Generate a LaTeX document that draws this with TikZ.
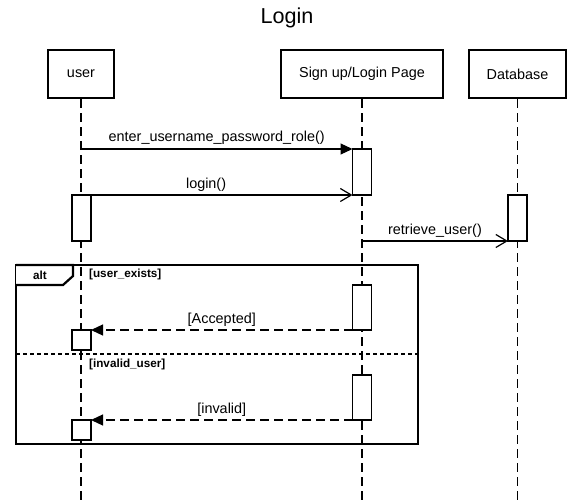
\documentclass[tikz,border=0pt]{standalone}
\usepackage{fontspec}
\setmainfont{Liberation Sans}
\usetikzlibrary{arrows.meta}
\begin{document}
\begin{tikzpicture}[x=1pt,y=-1pt,
  participant/.style={draw, line width=2.2pt, minimum width=#1, minimum height=48pt,
    inner sep=0pt, font=\fontsize{14.4}{16}\selectfont},
  lifeline/.style={line width=1.2pt, dash pattern=on 9pt off 5pt},
  activation/.style={draw, fill=white, line width=1.2pt, minimum width=19pt,
    minimum height=#1, inner sep=0pt, outer sep=0pt},
  msg/.style={line width=1.2pt},
  blockhead/.style={-{Triangle[length=12pt,width=11pt]}},
  openhead/.style={-{Straight Barb[length=11pt,width=13pt]}},
  reply/.style={line width=1.2pt, dash pattern=on 9pt off 5pt, -{Triangle[length=12pt,width=11pt]}},
  msglabel/.style={font=\fontsize{14.4}{16}\selectfont, inner sep=0pt, anchor=base},
  guard/.style={font=\bfseries\fontsize{11.7}{13}\selectfont, inner sep=0pt, anchor=base west},
  framebox/.style={draw, line width=2.2pt, inner sep=0pt, outer sep=0pt}
]
\useasboundingbox (0,0) rectangle (574,502);
\coordinate (bottom) at (0,502);

% title
\node[font=\fontsize{21.6}{24}\selectfont, inner sep=0pt] (title) at (287,18) {Login};

% participants
\node[participant=66pt]  (user)   at (81,74)    {user};
\node[participant=162pt] (signup) at (362,74)   {Sign up/Login Page};
\node[participant=97pt]  (db)     at (517.5,74) {Database};

% lifelines
\draw[lifeline] (user.south)   -- (user.south |- bottom);
\draw[lifeline] (signup.south) -- (signup.south |- bottom);
\draw[lifeline] (db.south)     -- (db.south |- bottom);

% alt combined fragment
\node[framebox, minimum width=402pt, minimum height=179pt] (alt) at (217,354.5) {};
\draw[line width=2.2pt, fill=white] (alt.north west) -- (73,265) -- (73,276) -- (63,285) -- (alt.west |- 0,285);
\node[font=\bfseries\fontsize{11.7}{13}\selectfont, inner sep=0pt, anchor=base] (altlabel) at (40,279.5) {alt};
\draw[line width=2.2pt, dash pattern=on 4pt off 3pt] (alt.west |- 0,354) -- (alt.east |- 0,354);
\node[guard] (g1) at (89,277.5) {[user\_exists]};
\node[guard] (g2) at (89,368) {[invalid\_user]};

% activations
\node[activation=46pt] (act1)  at (362,172)   {};
\node[activation=46pt] (uact)  at (81.5,218)  {};
\node[activation=46pt] (dbact) at (517.5,218) {};
\node[activation=45pt] (act2)  at (362,307.5) {};
\node[activation=45pt] (act3)  at (362,397.5) {};
\node[activation=20pt] (ures1) at (81.5,340)  {};
\node[activation=20pt] (ures2) at (81.5,430)  {};

% messages
\draw[msg, blockhead] (act1.north west -| user.south) -- (act1.north west)
  node[msglabel, midway, yshift=7pt] {enter\_username\_password\_role()};
\draw[msg, openhead] (uact.north east) -- (act1.south west)
  node[msglabel, pos=0.44, yshift=6.5pt] {login()};
\draw[msg, openhead] (dbact.south west -| signup.south) -- (dbact.south west)
  node[msglabel, midway, yshift=6.5pt] {retrieve\_user()};
\draw[reply] (act2.south west) -- (ures1.north east)
  node[msglabel, midway, yshift=6pt] {[Accepted]};
\draw[reply] (act3.south west) -- (ures2.north east)
  node[msglabel, midway, yshift=6pt] {[invalid]};
\end{tikzpicture}
\end{document}
